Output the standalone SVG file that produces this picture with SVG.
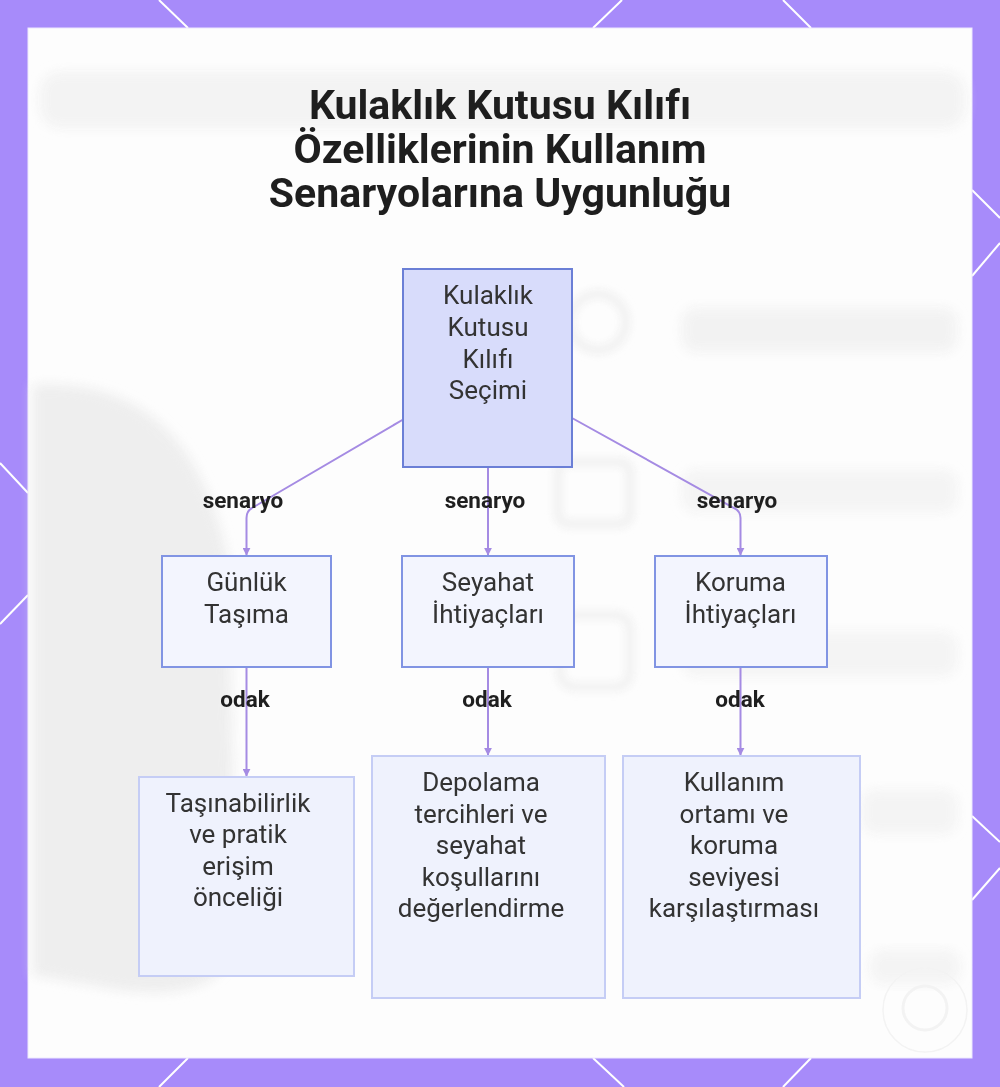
<svg xmlns="http://www.w3.org/2000/svg" width="1000" height="1087" viewBox="0 0 1000 1087">
  <defs>
    <filter id="blur" x="-20%" y="-20%" width="140%" height="140%">
      <feGaussianBlur stdDeviation="6"/>
    </filter>
    <filter id="blurS" x="-20%" y="-20%" width="140%" height="140%">
      <feGaussianBlur stdDeviation="4"/>
    </filter>
    <marker id="arrow" viewBox="0 0 10 10" refX="9" refY="5" markerWidth="4" markerHeight="4" orient="auto">
      <path d="M0,0 L10,5 L0,10 Z" fill="#a58be3"/>
    </marker>
    <style>
      .title { font-family: Roboto, "Liberation Sans", sans-serif; font-weight: 700; font-size: 41px; fill: #1e1e1e; text-anchor: middle; }
      .lbl { font-family: Roboto, "Liberation Sans", sans-serif; font-size: 26px; fill: #333333; text-anchor: middle; }
      .elbl { font-family: Roboto, "Liberation Sans", sans-serif; font-weight: 700; font-size: 22.5px; fill: #1f1f1f; text-anchor: middle; }
      .root { fill: #d8dcfb; stroke: #6b7fd6; stroke-width: 2; }
      .mid { fill: #f3f5fe; stroke: #8194e3; stroke-width: 2; }
      .leaf { fill: #eff2fd; stroke: #c5cdf5; stroke-width: 2; }
      .edge { fill: none; stroke: #a58be3; stroke-width: 2; }
      .deco { stroke: #ffffff; stroke-width: 2; fill: none; }
      .ghost { fill: #ececec; }
    </style>
  </defs>

  <!-- frame -->
  <rect x="0" y="0" width="1000" height="1087" fill="#a78bfa"/>
  <g class="deco">
    <line x1="159" y1="0" x2="188" y2="28"/>
    <line x1="622" y1="0" x2="593" y2="28"/>
    <line x1="783" y1="0" x2="811" y2="28"/>
    <line x1="188" y1="1058" x2="159" y2="1087"/>
    <line x1="593" y1="1058" x2="624" y2="1087"/>
    <line x1="811" y1="1058" x2="783" y2="1087"/>
    <line x1="0" y1="463" x2="28" y2="493"/>
    <line x1="28" y1="595" x2="0" y2="624"/>
    <line x1="972" y1="190" x2="1000" y2="218"/>
    <line x1="1000" y1="243" x2="972" y2="276"/>
    <line x1="972" y1="816" x2="1000" y2="842"/>
    <line x1="1000" y1="868" x2="972" y2="900"/>
  </g>
  <rect x="28" y="28" width="944" height="1030" fill="#fdfdfd" stroke="#ede8fe" stroke-width="1"/>

  <!-- faded background picture -->
  <g opacity="0.9">
    <path class="ghost" d="M33,385 Q190,375 228,560 L236,930 Q232,1005 120,990 L33,975 Z" filter="url(#blur)"/>
    <rect x="40" y="72" width="925" height="56" rx="20" fill="#f2f2f2" filter="url(#blur)"/>
    <circle cx="598" cy="322" r="28" fill="none" stroke="#eeeeee" stroke-width="8" filter="url(#blurS)"/>
    <rect x="682" y="308" width="275" height="44" rx="14" fill="#f1f1f1" filter="url(#blur)"/>
    <rect x="558" y="462" width="72" height="62" rx="10" fill="none" stroke="#eeeeee" stroke-width="8" filter="url(#blurS)"/>
    <rect x="682" y="470" width="275" height="42" rx="14" fill="#f3f3f3" filter="url(#blur)"/>
    <rect x="560" y="615" width="70" height="72" rx="14" fill="none" stroke="#efefef" stroke-width="8" filter="url(#blurS)"/>
    <rect x="682" y="632" width="275" height="44" rx="14" fill="#f3f3f3" filter="url(#blur)"/>
    <rect x="862" y="790" width="95" height="44" rx="14" fill="#f3f3f3" filter="url(#blur)"/>
    <rect x="870" y="950" width="90" height="34" rx="14" fill="#f3f3f3" filter="url(#blur)"/>
    <circle cx="925" cy="1010" r="42" fill="none" stroke="#f2f2f2" stroke-width="1.5"/>
    <circle cx="925" cy="1008" r="22" fill="none" stroke="#f2f2f2" stroke-width="3"/>
  </g>

  <!-- title -->
  <g id="title">
    <text class="title" x="500" y="119">Kulaklık Kutusu Kılıfı</text>
    <text class="title" x="500" y="163">Özelliklerinin Kullanım</text>
    <text class="title" x="500" y="207">Senaryolarına Uygunluğu</text>
  </g>

  <!-- connectors -->
  <g id="connectors">
    <path class="edge" d="M404,419 L252,508 Q246.5,511 246.5,518 L246.5,555" marker-end="url(#arrow)"/>
    <path class="edge" d="M488,468 L488,555" marker-end="url(#arrow)"/>
    <path class="edge" d="M572,418 L734,508 Q740.5,511 740.5,518 L740.5,555" marker-end="url(#arrow)"/>
    <path class="edge" d="M246.5,667 L246.5,776" marker-end="url(#arrow)"/>
    <path class="edge" d="M488,667 L488,755" marker-end="url(#arrow)"/>
    <path class="edge" d="M740.5,667 L740.5,755" marker-end="url(#arrow)"/>
    <text class="elbl" x="243" y="508">senaryo</text>
    <text class="elbl" x="485" y="508">senaryo</text>
    <text class="elbl" x="737" y="508">senaryo</text>
    <text class="elbl" x="245" y="707">odak</text>
    <text class="elbl" x="487" y="707">odak</text>
    <text class="elbl" x="740" y="707">odak</text>
  </g>

  <!-- nodes -->
  <g id="node-root">
    <rect class="root" x="403" y="269" width="169" height="198"/>
    <text class="lbl" x="488" y="304">Kulaklık</text>
    <text class="lbl" x="488" y="336">Kutusu</text>
    <text class="lbl" x="488" y="368">Kılıfı</text>
    <text class="lbl" x="488" y="399">Seçimi</text>
  </g>
  <g id="node-gunluk">
    <rect class="mid" x="162" y="556" width="169" height="111"/>
    <text class="lbl" x="246.5" y="591">Günlük</text>
    <text class="lbl" x="246.5" y="623">Taşıma</text>
  </g>
  <g id="node-seyahat">
    <rect class="mid" x="402" y="556" width="172" height="111"/>
    <text class="lbl" x="488" y="591">Seyahat</text>
    <text class="lbl" x="488" y="623">İhtiyaçları</text>
  </g>
  <g id="node-koruma">
    <rect class="mid" x="655" y="556" width="172" height="111"/>
    <text class="lbl" x="740.5" y="591">Koruma</text>
    <text class="lbl" x="740.5" y="623">İhtiyaçları</text>
  </g>
  <g id="node-tasinabilirlik">
    <rect class="leaf" x="139" y="777" width="215" height="199"/>
    <text class="lbl" x="238" y="812">Taşınabilirlik</text>
    <text class="lbl" x="238" y="843">ve pratik</text>
    <text class="lbl" x="238" y="875">erişim</text>
    <text class="lbl" x="238" y="906">önceliği</text>
  </g>
  <g id="node-depolama">
    <rect class="leaf" x="372" y="756" width="233" height="242"/>
    <text class="lbl" x="481" y="791">Depolama</text>
    <text class="lbl" x="481" y="823">tercihleri ve</text>
    <text class="lbl" x="481" y="854">seyahat</text>
    <text class="lbl" x="481" y="886">koşullarını</text>
    <text class="lbl" x="481" y="917">değerlendirme</text>
  </g>
  <g id="node-kullanim">
    <rect class="leaf" x="623" y="756" width="237" height="242"/>
    <text class="lbl" x="734" y="791">Kullanım</text>
    <text class="lbl" x="734" y="823">ortamı ve</text>
    <text class="lbl" x="734" y="854">koruma</text>
    <text class="lbl" x="734" y="886">seviyesi</text>
    <text class="lbl" x="734" y="917">karşılaştırması</text>
  </g>
</svg>
